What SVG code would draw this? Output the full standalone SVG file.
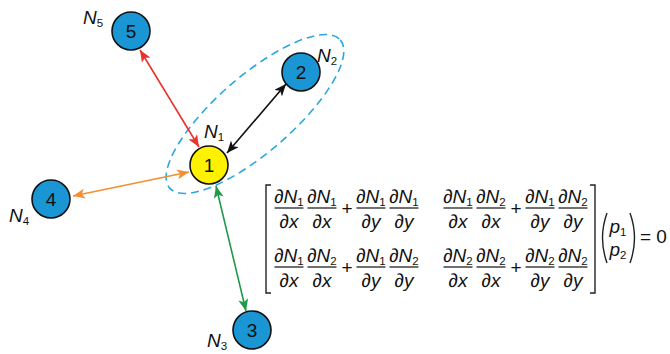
<svg xmlns="http://www.w3.org/2000/svg" width="670" height="354" viewBox="0 0 670 354">
<style>
.node{stroke:#111;stroke-width:1.6}
.blue{fill:#1a96d4}
.yellow{fill:#fff200}
.num{font-family:"Liberation Sans",Arial,sans-serif;font-size:19px;fill:#111;text-anchor:middle}
.lab{font-family:"Liberation Sans",Arial,sans-serif;font-size:19px;font-style:italic;fill:#111}
.sub{font-size:11.5px;font-style:normal}
.m{font-family:"Liberation Sans",Arial,sans-serif;font-size:19px;font-style:italic;fill:#111;text-anchor:middle}
.mu{font-family:"Liberation Sans",Arial,sans-serif;font-size:19px;fill:#111}
.pl{font-family:"Liberation Sans",Arial,sans-serif;font-size:19px;fill:#111;text-anchor:middle}
.fl{stroke:#111;stroke-width:1.2}
.br{fill:none;stroke:#222;stroke-width:1.4}
.conn{stroke-width:1.6;fill:none}
</style>
<defs>
<marker id="aR" viewBox="0 0 12 10" refX="12" refY="5" markerWidth="12" markerHeight="10" markerUnits="userSpaceOnUse" orient="auto-start-reverse"><path d="M0,0 L12,5 L0,10 L3,5 Z" fill="#e8342c"/></marker>
<marker id="aK" viewBox="0 0 12 10" refX="12" refY="5" markerWidth="12" markerHeight="10" markerUnits="userSpaceOnUse" orient="auto-start-reverse"><path d="M0,0 L12,5 L0,10 L3,5 Z" fill="#111"/></marker>
<marker id="aO" viewBox="0 0 12 10" refX="12" refY="5" markerWidth="12" markerHeight="10" markerUnits="userSpaceOnUse" orient="auto-start-reverse"><path d="M0,0 L12,5 L0,10 L3,5 Z" fill="#f3902f"/></marker>
<marker id="aG" viewBox="0 0 12 10" refX="12" refY="5" markerWidth="12" markerHeight="10" markerUnits="userSpaceOnUse" orient="auto-start-reverse"><path d="M0,0 L12,5 L0,10 L3,5 Z" fill="#1f9a4a"/></marker>
</defs>

<ellipse id="group-ellipse" cx="255" cy="114" rx="113" ry="38" transform="rotate(-41 255 114)" fill="none" stroke="#2aa7df" stroke-width="1.6" stroke-dasharray="8 5"/>

<g id="connectors">
<line class="conn" x1="140" y1="50" x2="199" y2="147" stroke="#e8342c" marker-start="url(#aR)" marker-end="url(#aR)"/>
<line class="conn" x1="286" y1="84" x2="227" y2="153" stroke="#111" marker-start="url(#aK)" marker-end="url(#aK)"/>
<line class="conn" x1="73" y1="196" x2="189" y2="172" stroke="#f3902f" marker-start="url(#aO)" marker-end="url(#aO)"/>
<line class="conn" x1="216" y1="186" x2="246" y2="311" stroke="#1f9a4a" marker-start="url(#aG)" marker-end="url(#aG)"/>
</g>

<g id="node1"><circle class="node yellow" cx="209" cy="165" r="19"/><text class="num" x="209" y="172">1</text><text class="lab" x="204" y="138">N<tspan class="sub" dy="3">1</tspan></text></g>
<g id="node2"><circle class="node blue" cx="301" cy="72" r="19"/><text class="num" x="301" y="79">2</text><text class="lab" x="317" y="62">N<tspan class="sub" dy="3">2</tspan></text></g>
<g id="node3"><circle class="node blue" cx="252" cy="330" r="19"/><text class="num" x="252" y="337">3</text><text class="lab" x="207" y="347">N<tspan class="sub" dy="3">3</tspan></text></g>
<g id="node4"><circle class="node blue" cx="51" cy="199" r="19"/><text class="num" x="51" y="206">4</text><text class="lab" x="9" y="222">N<tspan class="sub" dy="3">4</tspan></text></g>
<g id="node5"><circle class="node blue" cx="131" cy="31" r="19"/><text class="num" x="131" y="38">5</text><text class="lab" x="83" y="24">N<tspan class="sub" dy="3">5</tspan></text></g>

<g id="equation">
<path class="br" d="M271,185 L266,185 L266,293 L271,293"/>
<path class="br" d="M590,185 L595,185 L595,293 L590,293"/>
<!-- row 1 -->
<text class="m" x="289" y="203">∂N<tspan class="sub" dy="3">1</tspan></text><line class="fl" x1="274.5" y1="208" x2="303.5" y2="208"/><text class="m" x="289" y="228">∂x</text>
<text class="m" x="322" y="203">∂N<tspan class="sub" dy="3">1</tspan></text><line class="fl" x1="307.5" y1="208" x2="336.5" y2="208"/><text class="m" x="322" y="228">∂x</text>
<text class="pl" x="347" y="215">+</text>
<text class="m" x="371" y="203">∂N<tspan class="sub" dy="3">1</tspan></text><line class="fl" x1="356.5" y1="208" x2="385.5" y2="208"/><text class="m" x="371" y="228">∂y</text>
<text class="m" x="404" y="203">∂N<tspan class="sub" dy="3">1</tspan></text><line class="fl" x1="389.5" y1="208" x2="418.5" y2="208"/><text class="m" x="404" y="228">∂y</text>

<text class="m" x="458" y="203">∂N<tspan class="sub" dy="3">1</tspan></text><line class="fl" x1="443.5" y1="208" x2="472.5" y2="208"/><text class="m" x="458" y="228">∂x</text>
<text class="m" x="491" y="203">∂N<tspan class="sub" dy="3">2</tspan></text><line class="fl" x1="476.5" y1="208" x2="505.5" y2="208"/><text class="m" x="491" y="228">∂x</text>
<text class="pl" x="516" y="215">+</text>
<text class="m" x="540" y="203">∂N<tspan class="sub" dy="3">1</tspan></text><line class="fl" x1="525.5" y1="208" x2="554.5" y2="208"/><text class="m" x="540" y="228">∂y</text>
<text class="m" x="573" y="203">∂N<tspan class="sub" dy="3">2</tspan></text><line class="fl" x1="558.5" y1="208" x2="587.5" y2="208"/><text class="m" x="573" y="228">∂y</text>
<!-- row 2 -->
<text class="m" x="289" y="262">∂N<tspan class="sub" dy="3">1</tspan></text><line class="fl" x1="274.5" y1="267" x2="303.5" y2="267"/><text class="m" x="289" y="287">∂x</text>
<text class="m" x="322" y="262">∂N<tspan class="sub" dy="3">2</tspan></text><line class="fl" x1="307.5" y1="267" x2="336.5" y2="267"/><text class="m" x="322" y="287">∂x</text>
<text class="pl" x="347" y="274">+</text>
<text class="m" x="371" y="262">∂N<tspan class="sub" dy="3">1</tspan></text><line class="fl" x1="356.5" y1="267" x2="385.5" y2="267"/><text class="m" x="371" y="287">∂y</text>
<text class="m" x="404" y="262">∂N<tspan class="sub" dy="3">2</tspan></text><line class="fl" x1="389.5" y1="267" x2="418.5" y2="267"/><text class="m" x="404" y="287">∂y</text>

<text class="m" x="458" y="262">∂N<tspan class="sub" dy="3">2</tspan></text><line class="fl" x1="443.5" y1="267" x2="472.5" y2="267"/><text class="m" x="458" y="287">∂x</text>
<text class="m" x="491" y="262">∂N<tspan class="sub" dy="3">2</tspan></text><line class="fl" x1="476.5" y1="267" x2="505.5" y2="267"/><text class="m" x="491" y="287">∂x</text>
<text class="pl" x="516" y="274">+</text>
<text class="m" x="540" y="262">∂N<tspan class="sub" dy="3">2</tspan></text><line class="fl" x1="525.5" y1="267" x2="554.5" y2="267"/><text class="m" x="540" y="287">∂y</text>
<text class="m" x="573" y="262">∂N<tspan class="sub" dy="3">2</tspan></text><line class="fl" x1="558.5" y1="267" x2="587.5" y2="267"/><text class="m" x="573" y="287">∂y</text>
<!-- vector -->
<path class="br" d="M607,213 Q598,238 607,263"/>
<path class="br" d="M630,213 Q639,238 630,263"/>
<text class="m" x="618" y="233">p<tspan class="sub" dy="3">1</tspan></text>
<text class="m" x="618" y="256">p<tspan class="sub" dy="3">2</tspan></text>
<text class="mu" x="640" y="243">= 0</text>
</g>
</svg>
